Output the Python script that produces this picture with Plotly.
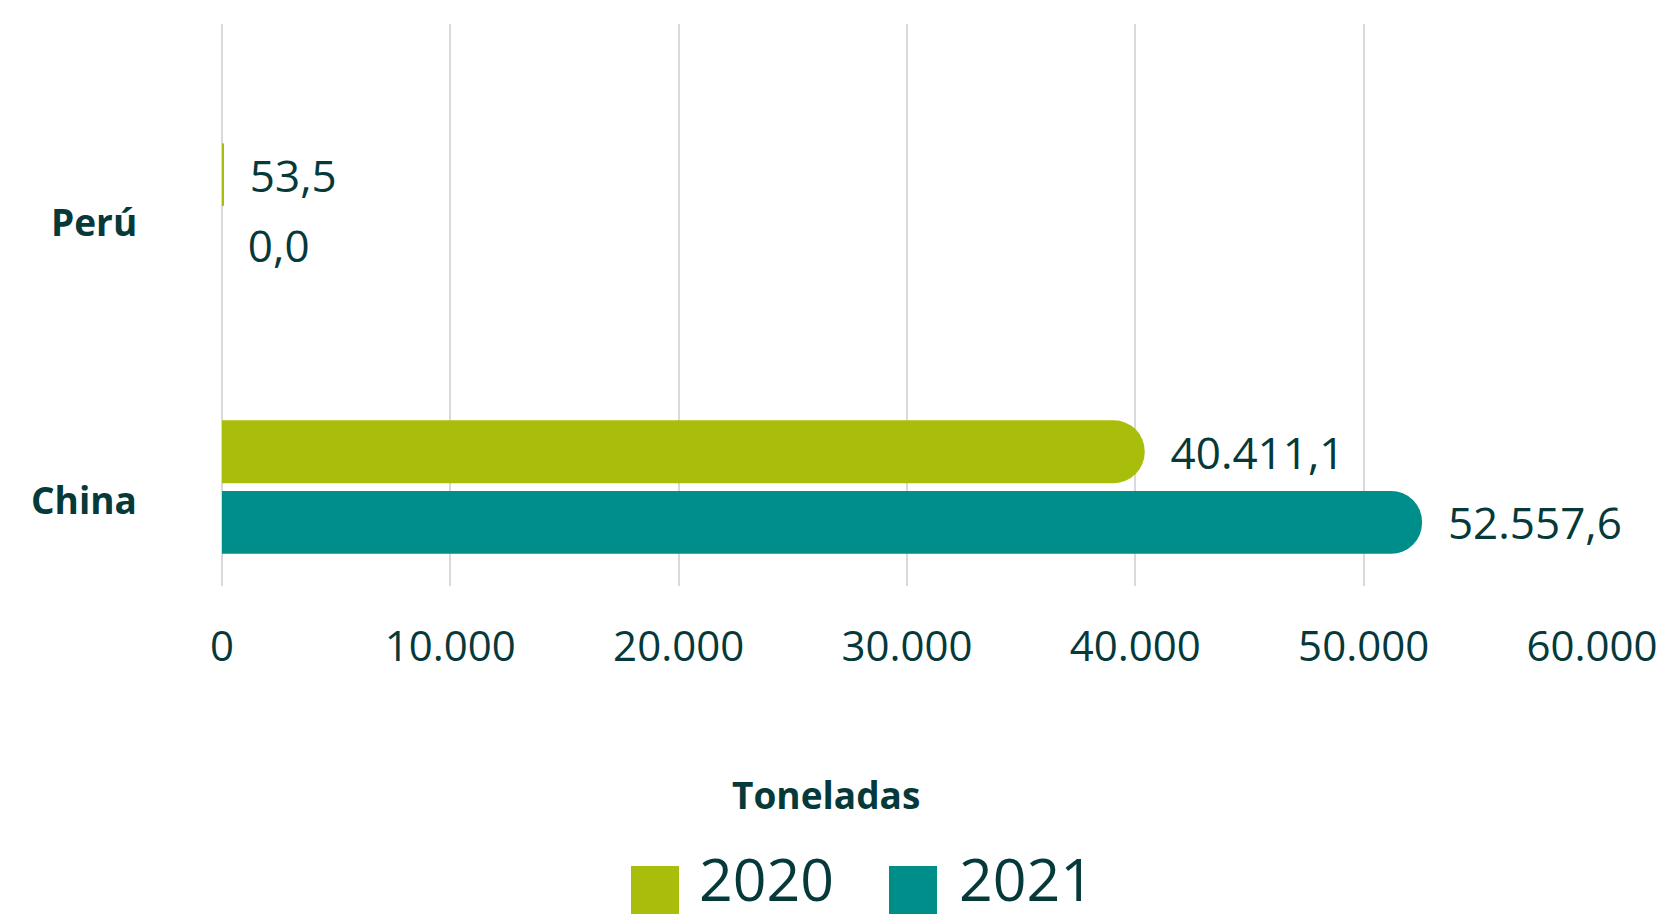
import plotly.graph_objects as go

categories = ["China", "Perú"]
years = ["2020", "2021"]
values_2020 = [40411.1, 53.5]
values_2021 = [52557.6, 0.0]
x_ticks = [0, 10000, 20000, 30000, 40000, 50000, 60000]
colors = {"2020": "#A9BD0B", "2021": "#008E8B"}
TXT = "#06393A"
FONT = "Open Sans"

W, H = 1676, 920
ML, MR, MT, MB = 222, 84, 24, 334
PW, PH = W - ML - MR, H - MT - MB


def px2paper(x, y):
    return (x - ML) / PW, (H - MB - y) / PH


fig = go.Figure()
# horizontal grouped bars put the first trace at the bottom -> add 2021 first
for yr, vals in zip(years[::-1], [values_2021, values_2020]):
    fig.add_trace(go.Bar(
        y=categories, x=vals, name=yr, orientation="h",
        marker=dict(color=colors[yr], line=dict(width=0)),
        texttemplate="  %{x:,.1f}", textposition="outside",
        textfont=dict(family=FONT, size=44, color=TXT),
        constraintext="none", cliponaxis=False, showlegend=False,
    ))

fig.update_layout(
    width=W, height=H, autosize=False,
    margin=dict(l=ML, r=MR, t=MT, b=MB),
    paper_bgcolor="white", plot_bgcolor="white",
    barmode="group", bargap=0.49, bargroupgap=0.11,
    barcornerradius="50%",
    separators=",.",
    font=dict(family=FONT, color=TXT),
    xaxis=dict(
        range=[0, 60000], tickvals=x_ticks, tickformat=",d", automargin=False,
        showgrid=True, gridcolor="#D9D9D9", gridwidth=1.5,
        zeroline=True, zerolinecolor="#D9D9D9", zerolinewidth=1.5,
        showline=False, ticks="", ticklabelstandoff=32,
        tickfont=dict(family=FONT, size=42, color=TXT),
    ),
    yaxis=dict(
        range=[-0.357, 1.671], showgrid=False, zeroline=False, showline=False,
        ticks="", showticklabels=False, automargin=False,
    ),
)

# category labels (placed on the category axis, slightly below centre as in the reference)
lab_x, _ = px2paper(139, 0)
for cat in categories:
    fig.add_annotation(text=f"<b>{cat}</b>", x=lab_x, y=cat, xref="paper", yref="y",
                       showarrow=False, xanchor="right", yanchor="middle", yshift=-12,
                       font=dict(family=FONT, size=37, color=TXT))

# axis title
tx, ty = px2paper(826, 794)
fig.add_annotation(text="<b>Toneladas</b>", x=tx, y=ty, xref="paper", yref="paper",
                   showarrow=False, xanchor="center", yanchor="middle",
                   font=dict(family=FONT, size=37, color=TXT))

# legend
legend_items = [("2020", 631, 697), ("2021", 889, 957)]
for yr, sx, tx_px in legend_items:
    x0, y0 = px2paper(sx, 914)
    x1, y1 = px2paper(sx + 48, 866)
    fig.add_shape(type="rect", xref="paper", yref="paper", x0=x0, x1=x1, y0=y0, y1=y1,
                  fillcolor=colors[yr], line=dict(width=0))
    lx, ly = px2paper(tx_px, 920)
    fig.add_annotation(text=yr, x=lx, y=ly, xref="paper", yref="paper", showarrow=False,
                       xanchor="left", yanchor="bottom",
                       font=dict(family=FONT, size=59, color=TXT))

fig.write_html("out.html", config={"displayModeBar": False},
               post_script="document.body.style.margin='0';")
